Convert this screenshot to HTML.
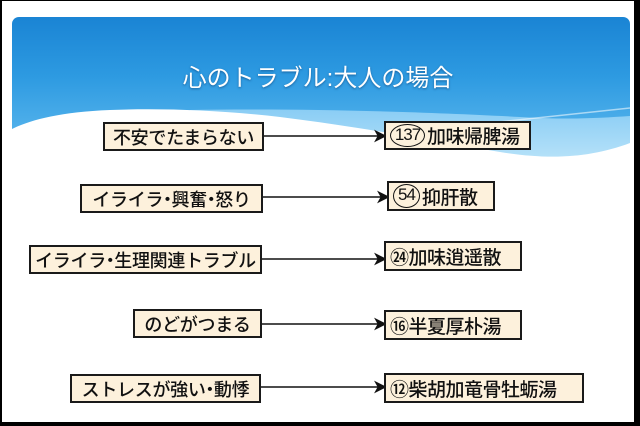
<!DOCTYPE html>
<html><head><meta charset="utf-8">
<style>
html,body{margin:0;padding:0;}
body{width:640px;height:426px;background:#000;position:relative;overflow:hidden;font-family:"Liberation Sans","Noto Sans CJK JP",sans-serif;}
.bg{position:absolute;left:0;top:0;}
.box{position:absolute;box-sizing:border-box;border:2px solid #1a1a1a;background:#fdf1dc;display:flex;align-items:center;color:#111;white-space:nowrap;font-family:"Noto Sans CJK JP",sans-serif;font-weight:500;}
.l{justify-content:center;font-size:18px;letter-spacing:-0.3px;}
.r{padding-left:4px;font-size:19px;letter-spacing:-0.5px;}
.d{display:inline-block;margin:0 -0.26em;}
.ell{display:inline-block;border:1.5px solid #111;border-radius:50%;font-family:"Liberation Sans",sans-serif;font-weight:400;font-size:17px;line-height:20px;text-align:center;letter-spacing:-1px;margin-right:2px;box-sizing:border-box;}
.title{position:absolute;left:0;width:636px;top:58px;text-align:center;color:#fff;font-size:24px;font-family:"Liberation Sans","Noto Sans CJK JP",sans-serif;text-shadow:0 1px 2px rgba(0,40,90,0.5);}
</style></head>
<body>
<svg class="bg" width="640" height="426" viewBox="0 0 640 426">
<defs>
<linearGradient id="gb" x1="0" y1="17" x2="0" y2="165" gradientUnits="userSpaceOnUse">
<stop offset="0" stop-color="#1a84d4"/>
<stop offset="0.4" stop-color="#2d9ae1"/>
<stop offset="1" stop-color="#68bff1"/>
</linearGradient>
<linearGradient id="gl" x1="0" y1="105" x2="0" y2="160" gradientUnits="userSpaceOnUse">
<stop offset="0" stop-color="#86cbf4"/>
<stop offset="1" stop-color="#b7e2f9"/>
</linearGradient>
<clipPath id="cp"><path d="M19,17 H623 A7,7 0 0 1 630,24 V300 H12 V24 A7,7 0 0 1 19,17 Z"/></clipPath>
</defs>
<rect x="2" y="1" width="632" height="421" fill="#fff"/>
<g clip-path="url(#cp)">
<rect x="12" y="17" width="618" height="200" fill="url(#gb)"/>
<path d="M190,110 C300,108 430,112 520,117 C570,120 600,118 630,116 L630,220 L190,220 Z" fill="url(#gl)"/>
<path d="M12,129 C30,120 60,112 110,110 C160,108 220,110 280,117 C360,127 430,140 500,152 C550,160 590,158 630,143 L630,300 L12,300 Z" fill="#fff"/>
<path d="M480,124 C540,118 590,112 630,108" stroke="#fff" stroke-opacity="0.55" stroke-width="1.5" fill="none"/>
</g>
<g stroke="#111" stroke-width="1.6" fill="#111">
<line x1="263" y1="136" x2="378" y2="136"/>
<path d="M385,136 L376,131.5 L378.5,136 L376,140.5 Z"/>
<line x1="262" y1="197" x2="381" y2="197"/>
<path d="M388,197 L379,192.5 L381.5,197 L379,201.5 Z"/>
<line x1="261" y1="259" x2="378" y2="259"/>
<path d="M385,259 L376,254.5 L378.5,259 L376,263.5 Z"/>
<line x1="261" y1="324" x2="378" y2="324"/>
<path d="M385,324 L376,319.5 L378.5,324 L376,328.5 Z"/>
<line x1="260" y1="387" x2="378" y2="387"/>
<path d="M385,387 L376,382.5 L378.5,387 L376,391.5 Z"/>
</g>
</svg>
<div class="title">心のトラブル:大人の場合</div>

<div class="box l" style="left:103px;top:122px;width:161px;height:29px;">不安でたまらない</div>
<div class="box l" style="left:80px;top:184px;width:183px;height:29px;">イライラ<span class="d">・</span>興奮<span class="d">・</span>怒り</div>
<div class="box l" style="left:29px;top:245px;width:233px;height:29px;">イライラ<span class="d">・</span>生理関連トラブル</div>
<div class="box l" style="left:133px;top:309px;width:129px;height:29px;">のどがつまる</div>
<div class="box l" style="left:70px;top:374px;width:191px;height:29px;">ストレスが強い<span class="d">・</span>動悸</div>

<div class="box r" style="left:384px;top:121px;width:147px;height:29px;"><span class="ell" style="width:35px;height:23px;">137</span>加味帰脾湯</div>
<div class="box r" style="left:387px;top:181px;width:108px;height:30px;"><span class="ell" style="width:27px;height:24px;">54</span>抑肝散</div>
<div class="box r" style="left:384px;top:241px;width:138px;height:30px;">㉔加味逍遥散</div>
<div class="box r" style="left:384px;top:310px;width:138px;height:30px;">⑯半夏厚朴湯</div>
<div class="box r" style="left:384px;top:373px;width:200px;height:30px;">⑫柴胡加竜骨牡蛎湯</div>
</body></html>
